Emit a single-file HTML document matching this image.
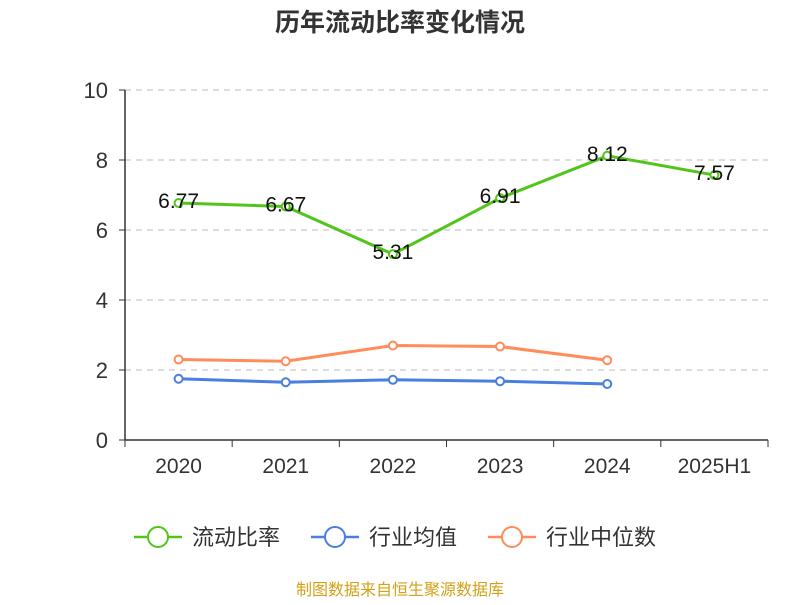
<!DOCTYPE html>
<html><head><meta charset="utf-8"><style>
body{margin:0;background:#fff;font-family:"Liberation Sans","Noto Sans CJK SC",sans-serif}
</style></head><body>
<svg width="800" height="600" xmlns="http://www.w3.org/2000/svg" id="chart" style="font-family:'Liberation Sans','Noto Sans CJK SC',sans-serif">
<text x="400" y="31" text-anchor="middle" font-size="25" font-weight="bold" fill="#333">历年流动比率变化情况</text>
<g id="grid"></g><g id="axes"></g><g id="series"></g>
<g>
<g><line x1="134" y1="537" x2="182" y2="537" stroke="#52c41a" stroke-width="2.5"/><circle cx="158" cy="537" r="10" fill="#fff" stroke="#52c41a" stroke-width="2"/><text x="192" y="545" font-size="22" fill="#333">流动比率</text></g>
<g><line x1="311" y1="537" x2="359" y2="537" stroke="#4a7fe0" stroke-width="2.5"/><circle cx="335" cy="537" r="10" fill="#fff" stroke="#4a7fe0" stroke-width="2"/><text x="369" y="545" font-size="22" fill="#333">行业均值</text></g>
<g><line x1="488" y1="537" x2="536" y2="537" stroke="#ff8c5a" stroke-width="2.5"/><circle cx="512" cy="537" r="10" fill="#fff" stroke="#ff8c5a" stroke-width="2"/><text x="546" y="545" font-size="22" fill="#333">行业中位数</text></g>
</g>
<text x="400" y="595" text-anchor="middle" font-size="16" fill="#d4a017">制图数据来自恒生聚源数据库</text>
</svg>
<script>
const categories=["2020","2021","2022","2023","2024","2025H1"];
const ratio=[6.77,6.67,5.31,6.91,8.12,7.57];
const industryMean=[1.75,1.65,1.72,1.68,1.60];
const industryMedian=[2.30,2.25,2.70,2.67,2.28];
const yTicks=[0,2,4,6,8,10];
const NS="http://www.w3.org/2000/svg";
const x0=125,x1=768,y0=440,y1=90,bw=(x1-x0)/categories.length;
const xs=i=>x0+bw*(i+0.5), ys=v=>y0-(v/10)*(y0-y1);
function mk(t,a,p){const e=document.createElementNS(NS,t);for(const k in a)e.setAttribute(k,a[k]);p.appendChild(e);return e;}
const grid=document.getElementById('grid'),axes=document.getElementById('axes'),ser=document.getElementById('series');
yTicks.forEach(v=>{
 if(v>0){const g=mk('line',{x1:x0,x2:x1,y1:ys(v),y2:ys(v),stroke:'#bbb','stroke-dasharray':'6,5'},grid);
 
 }
 const t=mk('text',{x:x0-17,y:ys(v)+8,'text-anchor':'end','font-size':22,fill:'#333'},axes);t.textContent=v;
 
 
 mk('line',{x1:x0-6,x2:x0,y1:ys(v),y2:ys(v),stroke:'#333'},axes);
});
const ya=mk('line',{x1:x0,x2:x0,y1:y1,y2:y0,stroke:'#333','stroke-width':1.5},axes);


const xa=mk('line',{x1:x0,x2:x1,y1:y0,y2:y0,stroke:'#333','stroke-width':1.5},axes);


for(let i=0;i<=categories.length;i++)mk('line',{x1:x0+bw*i,x2:x0+bw*i,y1:y0,y2:y0+7,stroke:'#333'},axes);
categories.forEach((c,i)=>{const t=mk('text',{x:xs(i),y:y0+33,'text-anchor':'middle','font-size':21,fill:'#333'},axes);t.textContent=c;
 
 });
function line(data,color,name,labels,dots){
 const p=mk('polyline',{points:data.map((v,i)=>xs(i)+','+ys(v)).join(' '),fill:'none',stroke:color,'stroke-width':3},ser);
 
 
 data.forEach((v,i)=>{
  if(dots){const c=mk('circle',{cx:xs(i),cy:ys(v),r:4,fill:'#fff',stroke:color,'stroke-width':2},ser);
  
  }
  if(labels){const t=mk('text',{x:xs(i),y:ys(v)+5,'text-anchor':'middle','font-size':21,fill:'#111'},ser);t.textContent=v.toFixed(2);
  
  }
 });
}
line(industryMedian,'#ff8c5a','industry-median',false,true);
line(industryMean,'#4a7fe0','industry-mean',false,true);
line(ratio,'#52c41a','current-ratio',true,true);
</script>
</body></html>
